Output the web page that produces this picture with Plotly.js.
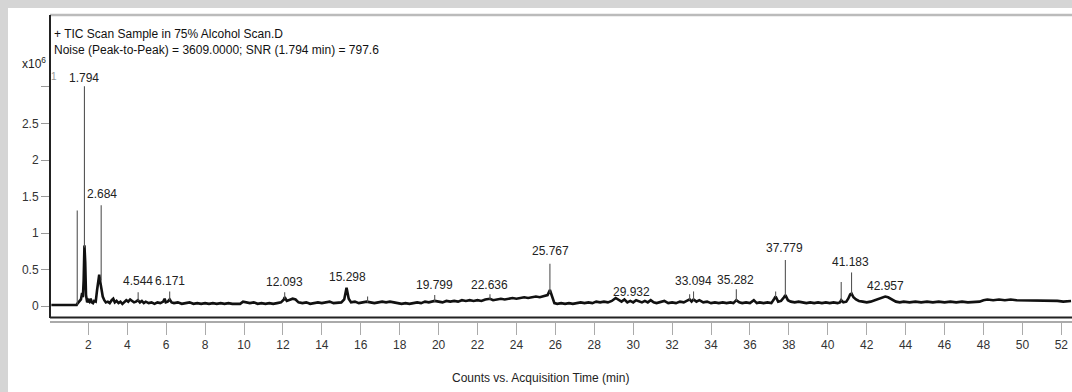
<!DOCTYPE html>
<html>
<head>
<meta charset="utf-8">
<script src="https://cdn.plot.ly/plotly-3.0.1.min.js"></script>
<style>html,body{margin:0;padding:0;background:#d5d5d5;}#chart{width:1072px;height:392px;}</style>
</head>
<body>
<div id="chart"></div>
<script>
// TIC trace, time in min, counts in x10^6
var tic_time = [0.10,0.50,1.00,1.40,1.43,1.48,1.55,1.62,1.68,1.72,1.76,1.80,1.84,1.88,1.94,2.00,2.06,2.12,2.18,2.24,2.30,2.38,2.45,2.52,2.56,2.62,2.68,2.74,2.82,2.90,3.00,3.10,3.20,3.28,3.36,3.45,3.55,3.65,3.75,3.85,3.95,4.05,4.15,4.25,4.35,4.45,4.55,4.65,4.75,4.85,4.95,5.10,5.25,5.40,5.55,5.70,5.85,5.92,5.98,6.08,6.18,6.28,6.40,6.60,6.80,7.00,7.20,7.40,7.60,7.80,8.00,8.20,8.40,8.60,8.80,9.00,9.20,9.40,9.60,9.80,9.95,10.10,10.30,10.50,10.70,10.90,11.10,11.30,11.50,11.70,11.90,12.05,12.09,12.20,12.35,12.50,12.65,12.80,13.00,13.20,13.40,13.60,13.80,14.00,14.20,14.40,14.60,14.80,15.00,15.15,15.27,15.38,15.50,15.70,15.90,16.10,16.30,16.50,16.70,16.90,17.10,17.30,17.50,17.70,17.90,18.10,18.30,18.50,18.70,18.90,19.10,19.30,19.50,19.80,20.00,20.20,20.40,20.60,20.80,21.00,21.20,21.40,21.60,21.80,22.00,22.20,22.40,22.64,22.80,23.00,23.20,23.40,23.60,23.80,24.00,24.20,24.40,24.60,24.80,25.00,25.20,25.40,25.60,25.72,25.85,25.95,26.10,26.30,26.50,26.70,26.90,27.10,27.30,27.50,27.70,27.90,28.10,28.30,28.50,28.70,28.90,29.10,29.25,29.40,29.55,29.70,29.85,30.00,30.15,30.30,30.45,30.60,30.75,30.90,31.05,31.20,31.40,31.60,31.80,32.00,32.20,32.40,32.60,32.80,32.90,33.00,33.10,33.25,33.40,33.60,33.80,34.00,34.20,34.40,34.60,34.80,35.00,35.15,35.30,35.45,35.60,35.80,36.00,36.20,36.35,36.50,36.70,36.90,37.10,37.25,37.32,37.45,37.60,37.75,37.82,37.95,38.10,38.30,38.50,38.70,38.90,39.10,39.30,39.50,39.70,39.90,40.10,40.30,40.50,40.62,40.69,40.80,40.95,41.05,41.15,41.22,41.32,41.45,41.60,41.80,42.00,42.20,42.40,42.60,42.80,42.95,43.10,43.30,43.50,43.70,43.90,44.20,44.50,44.80,45.10,45.40,45.70,46.00,46.30,46.60,46.90,47.20,47.50,47.80,48.00,48.20,48.50,48.80,49.10,49.40,49.70,50.00,50.30,50.60,50.90,51.20,51.50,51.80,52.10,52.50];
var tic_counts = [0.015,0.014,0.013,0.015,0.03,0.05,0.06,0.09,0.18,0.12,0.35,0.83,0.60,0.15,0.05,0.08,0.06,0.10,0.05,0.04,0.07,0.06,0.22,0.38,0.43,0.32,0.22,0.13,0.08,0.05,0.06,0.04,0.08,0.10,0.05,0.07,0.04,0.06,0.03,0.05,0.08,0.06,0.09,0.07,0.05,0.06,0.08,0.05,0.07,0.04,0.06,0.04,0.05,0.03,0.05,0.04,0.06,0.10,0.05,0.06,0.09,0.05,0.04,0.05,0.03,0.04,0.05,0.03,0.04,0.03,0.04,0.03,0.04,0.03,0.04,0.03,0.04,0.03,0.03,0.03,0.06,0.05,0.04,0.05,0.03,0.04,0.03,0.04,0.03,0.04,0.05,0.09,0.12,0.07,0.09,0.10,0.09,0.05,0.04,0.05,0.03,0.04,0.05,0.04,0.05,0.06,0.04,0.05,0.05,0.09,0.25,0.10,0.05,0.06,0.04,0.05,0.06,0.05,0.04,0.05,0.06,0.05,0.06,0.05,0.04,0.03,0.04,0.03,0.04,0.05,0.04,0.06,0.05,0.07,0.06,0.05,0.07,0.06,0.07,0.06,0.08,0.07,0.08,0.07,0.08,0.07,0.09,0.10,0.08,0.09,0.10,0.09,0.10,0.11,0.10,0.11,0.12,0.11,0.12,0.13,0.12,0.14,0.15,0.22,0.10,0.04,0.03,0.04,0.03,0.04,0.03,0.04,0.05,0.04,0.05,0.04,0.06,0.05,0.06,0.05,0.07,0.11,0.08,0.06,0.09,0.05,0.07,0.05,0.08,0.06,0.05,0.07,0.05,0.08,0.05,0.04,0.05,0.07,0.04,0.05,0.04,0.06,0.05,0.07,0.09,0.06,0.09,0.06,0.08,0.05,0.06,0.04,0.05,0.04,0.05,0.04,0.05,0.04,0.08,0.05,0.04,0.05,0.04,0.08,0.04,0.05,0.04,0.05,0.04,0.10,0.13,0.06,0.07,0.12,0.15,0.08,0.06,0.05,0.06,0.05,0.04,0.05,0.04,0.05,0.04,0.05,0.04,0.05,0.04,0.05,0.08,0.05,0.06,0.10,0.16,0.17,0.12,0.09,0.07,0.06,0.05,0.06,0.08,0.10,0.12,0.13,0.12,0.09,0.06,0.05,0.06,0.05,0.06,0.05,0.06,0.05,0.06,0.05,0.06,0.05,0.06,0.05,0.06,0.06,0.08,0.09,0.08,0.09,0.08,0.09,0.08,0.08,0.07,0.08,0.07,0.08,0.07,0.07,0.06,0.07];

// narrow peak apexes (thin lines)
var spike_time = [1.43,1.80,2.66,4.56,6.18,12.09,16.35,19.80,22.64,25.72,32.90,33.10,35.30,37.32,37.82,40.69,41.22];
var spike_base = [0.02,0.80,0.35,0.07,0.08,0.10,0.05,0.06,0.09,0.18,0.08,0.08,0.07,0.12,0.14,0.07,0.16];
var spike_top  = [1.31,3.01,1.38,0.19,0.20,0.19,0.13,0.15,0.16,0.58,0.16,0.20,0.23,0.20,0.63,0.33,0.46];

// retention time labels
var peak_labels  = [1.794,2.684,4.544,6.171,12.093,15.298,19.799,22.636,25.767,29.932,33.094,35.282,37.779,41.183,42.957];
var peak_label_y = [3.01,1.42,0.23,0.23,0.22,0.29,0.18,0.18,0.64,0.08,0.23,0.25,0.68,0.49,0.16];

var x_ticks = [2,4,6,8,10,12,14,16,18,20,22,24,26,28,30,32,34,36,38,40,42,44,46,48,50,52];
var y_ticks = [0,0.5,1,1.5,2,2.5,3];
var y_tick_text = ['0','0.5','1','1.5','2','2.5',' '];

var header1 = '+ TIC Scan Sample in 75% Alcohol Scan.D';
var header2 = 'Noise (Peak-to-Peak) = 3609.0000; SNR (1.794 min) = 797.6';
var x_title = 'Counts vs. Acquisition Time (min)';

var FONT = "'Liberation Sans Narrow','Arial Narrow','Liberation Sans',Arial,sans-serif";

var sx = [], sy = [];
for (var i = 0; i < spike_time.length; i++) {
  sx.push(spike_time[i], spike_time[i], null);
  sy.push(spike_base[i], spike_top[i], null);
}

var traces = [
  {x: tic_time, y: tic_counts, type: 'scatter', mode: 'lines',
   line: {color: '#111', width: 2.6}, hoverinfo: 'skip'},
  {x: sx, y: sy, type: 'scatter', mode: 'lines',
   line: {color: '#555', width: 1.1}, hoverinfo: 'skip'}
];

var ann = [];
for (var j = 0; j < peak_labels.length; j++) {
  ann.push({x: peak_labels[j], y: peak_label_y[j], xref: 'x', yref: 'y',
    text: peak_labels[j].toFixed(3), showarrow: false, xanchor: 'center', yanchor: 'bottom',
    font: {family: FONT, size: 12, color: '#222'}, borderpad: 0});
}
ann.push({x: 0.002, y: 0.938, xref: 'paper', yref: 'paper', text: header1, showarrow: false,
  xanchor: 'left', yanchor: 'middle', font: {family: FONT, size: 12, color: '#111'}});
ann.push({x: 0.002, y: 0.886, xref: 'paper', yref: 'paper', text: header2, showarrow: false,
  xanchor: 'left', yanchor: 'middle', font: {family: FONT, size: 12, color: '#111'}});
ann.push({x: -0.016, y: 0.842, xref: 'paper', yref: 'paper', text: 'x10<sup>6</sup>', showarrow: false,
  xanchor: 'center', yanchor: 'middle', font: {family: FONT, size: 12, color: '#222'}});
ann.push({x: 0.004, y: 0.80, xref: 'paper', yref: 'paper', text: '1', showarrow: false,
  xanchor: 'center', yanchor: 'middle', font: {family: FONT, size: 10, color: '#999'}});
ann.push({x: 0.48, y: -0.186, xref: 'paper', yref: 'paper', text: x_title, showarrow: false,
  xanchor: 'center', yanchor: 'middle', font: {family: FONT, size: 12, color: '#222'}});

var layout = {
  width: 1072, height: 392,
  margin: {l: 50, r: 0, t: 15, b: 71, pad: 0},
  paper_bgcolor: '#d5d5d5', plot_bgcolor: '#ffffff',
  showlegend: false,
  font: {family: FONT, size: 12, color: '#333'},
  xaxis: {range: [0.03, 52.55], tickvals: x_ticks, ticktext: x_ticks.map(String),
    ticks: 'outside', ticklen: 12, tickwidth: 1, tickcolor: '#aaa',
    showline: true, linecolor: '#aaa', linewidth: 1.5, showgrid: false, zeroline: false,
    tickfont: {family: FONT, size: 12, color: '#333'}, fixedrange: true},
  yaxis: {range: [-0.205, 3.986], tickvals: y_ticks, ticktext: y_tick_text,
    ticks: 'outside', ticklen: 8, tickwidth: 1, tickcolor: '#999',
    showline: false, showgrid: false, zeroline: false,
    tickfont: {family: FONT, size: 12, color: '#333'}, fixedrange: true},
  shapes: [
    {type: 'rect', xref: 'paper', yref: 'paper', x0: -0.0411, x1: 1.01, y0: -0.3, y1: 1.023,
     fillcolor: '#ffffff', line: {width: 0}, layer: 'below'},
    {type: 'line', xref: 'paper', yref: 'paper', x0: 0, x1: 1.01, y0: 1, y1: 1,
     line: {color: '#bbbbbb', width: 2.5}},
    {type: 'line', xref: 'paper', yref: 'paper', x0: 0, x1: 0, y0: 0.0098, y1: 1,
     line: {color: '#222', width: 2}},
    {type: 'line', xref: 'paper', yref: 'paper', x0: 0, x1: 1.01, y0: 0.0114, y1: 0.0114,
     line: {color: '#222', width: 2}}
  ],
  annotations: ann
};

Plotly.newPlot('chart', traces, layout, {displayModeBar: false, staticPlot: true});
</script>
</body>
</html>
